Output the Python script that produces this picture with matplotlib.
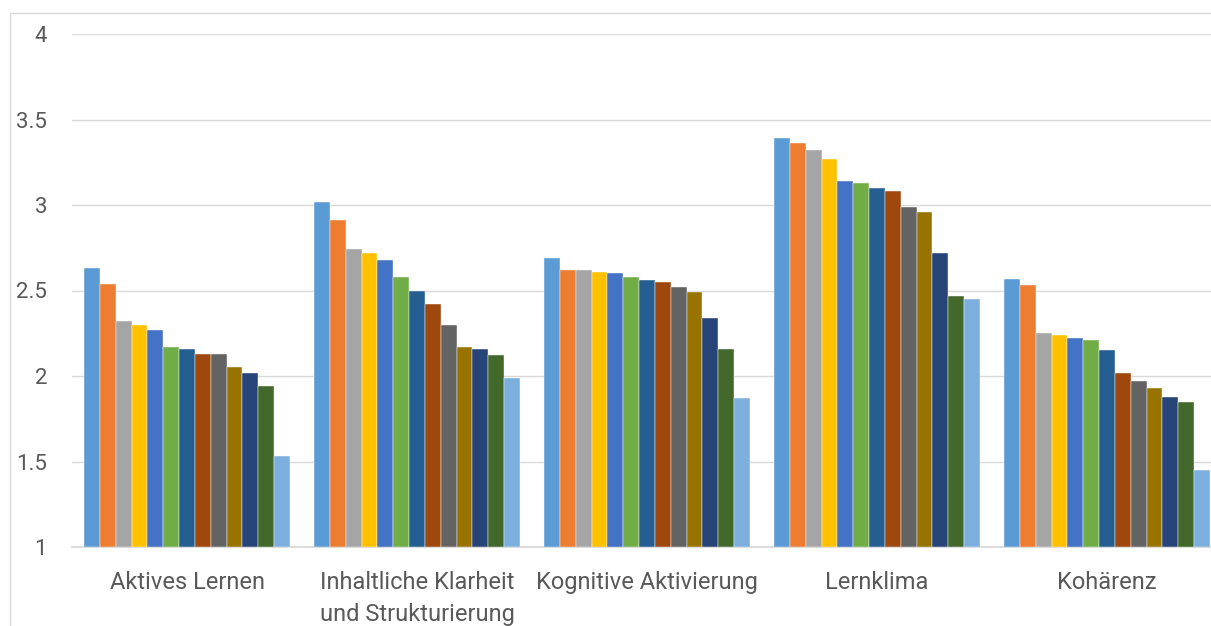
import matplotlib
matplotlib.use("Agg")
import matplotlib.pyplot as plt
from matplotlib.lines import Line2D
import numpy as np

# Categories on the x axis
categories = ["Aktives Lernen", "Inhaltliche Klarheit\nund Strukturierung",
              "Kognitive Aktivierung", "Lernklima", "Kohärenz"]

# Mean scores per category (13 series each, in series order)
aktives_lernen = [2.63, 2.54, 2.32, 2.30, 2.27, 2.17, 2.16, 2.13, 2.13, 2.05, 2.02, 1.94, 1.53]
klarheit = [3.02, 2.91, 2.74, 2.72, 2.68, 2.58, 2.50, 2.42, 2.30, 2.17, 2.16, 2.12, 1.99]
kognitive = [2.69, 2.62, 2.62, 2.61, 2.60, 2.58, 2.56, 2.55, 2.52, 2.49, 2.34, 2.16, 1.87]
lernklima = [3.39, 3.36, 3.32, 3.27, 3.14, 3.13, 3.10, 3.08, 2.99, 2.96, 2.72, 2.47, 2.45]
kohaerenz = [2.57, 2.53, 2.25, 2.24, 2.22, 2.21, 2.15, 2.02, 1.97, 1.93, 1.88, 1.85, 1.45]

y_ticks = [1, 1.5, 2, 2.5, 3, 3.5, 4]
y_tick_labels = ["1", "1.5", "2", "2.5", "3", "3.5", "4"]

series_colors = ["#5B9BD5", "#ED7D31", "#A5A5A5", "#FFC000", "#4472C4", "#70AD47",
                 "#255E91", "#9E480E", "#636363", "#997300", "#264478", "#43682B",
                 "#7CAFDD"]

plt.rcParams["font.family"] = ["Roboto", "DejaVu Sans"]

W, H = 1211, 626
fig = plt.figure(figsize=(W / 100, H / 100), dpi=100)

# plot area in pixel coordinates (extends slightly past the right edge)
left_px, right_px, top_px, bottom_px = 72, 1222, 34, 547
ax = fig.add_axes([left_px / W, 1 - bottom_px / H,
                   (right_px - left_px) / W, (bottom_px - top_px) / H])

table = np.array([aktives_lernen, klarheit, kognitive, lernklima, kohaerenz])
n_cat, n_ser = table.shape
x = np.arange(n_cat)
group_width = 0.896
bar_w = group_width / n_ser
base = 1.0
for s in range(n_ser):
    offs = -group_width / 2 + bar_w * (s + 0.5)
    ax.bar(x + offs, table[:, s] - base, bottom=base, width=bar_w,
           color=series_colors[s], edgecolor="white", linewidth=0.3, zorder=3)

ax.set_xlim(-0.5, n_cat - 0.5)
ax.set_ylim(1, 4)
ax.set_yticks(y_ticks)
ax.set_yticklabels(y_tick_labels)
ax.set_xticks(x)
ax.set_xticklabels(categories, fontsize=17, color="#595959", linespacing=1.5)
ax.tick_params(axis="y", length=0, pad=18, labelsize=16, labelcolor="#595959")
ax.tick_params(axis="x", length=0, pad=17.5)

ax.grid(axis="y", color="#D9D9D9", linewidth=1.0, zorder=0)
ax.set_axisbelow(True)
for side in ["top", "right", "left"]:
    ax.spines[side].set_visible(False)
ax.spines["bottom"].set_color("#D9D9D9")
ax.spines["bottom"].set_linewidth(1.3)

# chart-area outline along the top and left edges
border_color = "#D9D9D9"
fig.add_artist(Line2D([9.5 / W, 9.5 / W], [0, 1 - 13 / H], transform=fig.transFigure,
                      color=border_color, linewidth=1.0))
fig.add_artist(Line2D([9.5 / W, 1], [1 - 13 / H, 1 - 13 / H], transform=fig.transFigure,
                      color=border_color, linewidth=1.0))

fig.savefig("out.png", dpi=100, facecolor="white")
